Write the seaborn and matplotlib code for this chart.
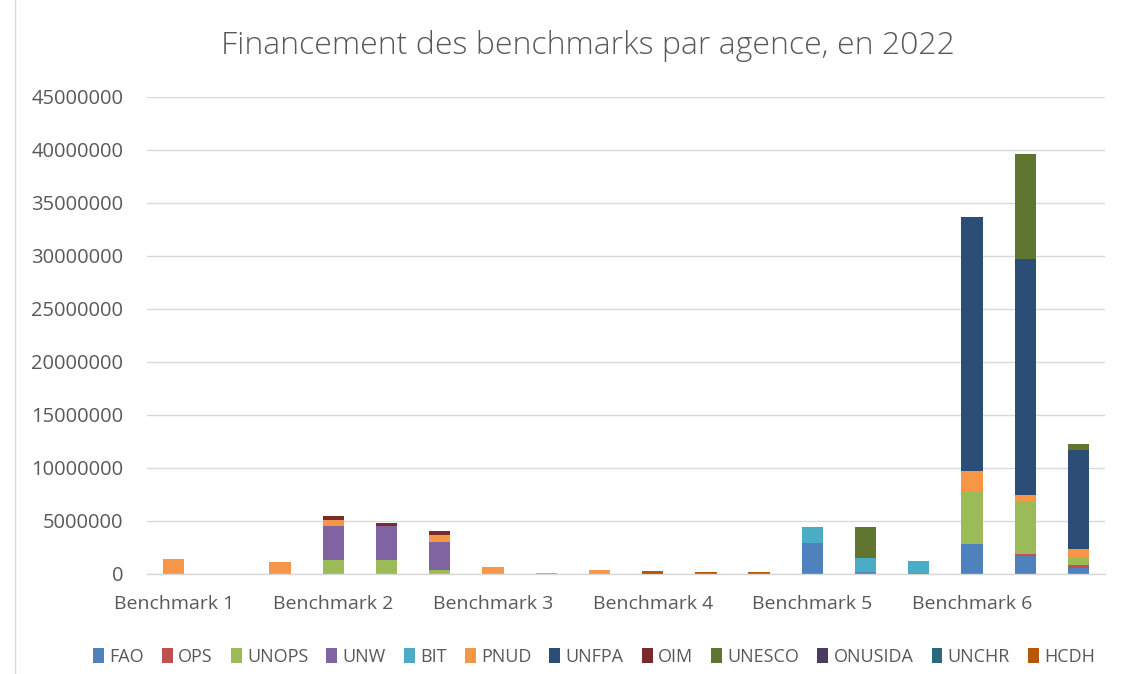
import pandas as pd
import matplotlib.pyplot as plt
import seaborn as sns
from matplotlib.patches import Patch
from matplotlib.lines import Line2D

# data: 18 bar slots, 3 per benchmark
slots = list(range(18))
tick_pos = [0, 3, 6, 9, 12, 15]
tick_labels = ["Benchmark 1", "Benchmark 2", "Benchmark 3", "Benchmark 4", "Benchmark 5", "Benchmark 6"]

agencies = ["FAO", "OPS", "UNOPS", "UNW", "BIT", "PNUD", "UNFPA", "OIM", "UNESCO", "ONUSIDA", "UNCHR", "HCDH"]

FAO = [0, 0, 0, 0, 0, 0, 0, 0, 0, 0, 0, 0, 2900000, 220000, 130000, 2870000, 1730000, 530000]
OPS = [0, 0, 0, 0, 0, 0, 0, 0, 0, 0, 0, 0, 0, 0, 0, 0, 130000, 350000]
UNOPS = [0, 0, 0, 1340000, 1340000, 380000, 0, 0, 0, 0, 0, 0, 0, 0, 0, 4830000, 4890000, 600000]
UNW = [0, 0, 0, 3150000, 3150000, 2680000, 0, 0, 0, 0, 0, 0, 0, 0, 0, 0, 0, 0]
BIT = [0, 0, 0, 0, 0, 0, 0, 0, 0, 0, 0, 0, 1500000, 1280000, 1110000, 0, 0, 0]
PNUD = [1400000, 0, 1150000, 600000, 0, 600000, 670000, 80000, 380000, 0, 0, 0, 0, 0, 0, 2050000, 730000, 880000]
UNFPA = [0, 0, 0, 0, 0, 0, 0, 0, 0, 0, 0, 0, 0, 0, 0, 23900000, 22190000, 9320000]
OIM = [0, 0, 0, 380000, 360000, 350000, 0, 0, 0, 0, 0, 0, 0, 0, 0, 0, 0, 0]
UNESCO = [0, 0, 0, 0, 0, 0, 0, 0, 0, 0, 0, 0, 0, 2900000, 0, 0, 9980000, 600000]
ONUSIDA = [0] * 18
UNCHR = [0, 0, 0, 0, 0, 0, 0, 0, 0, 120000, 0, 0, 0, 0, 0, 0, 0, 0]
HCDH = [0, 0, 0, 0, 0, 0, 0, 0, 0, 200000, 220000, 220000, 0, 0, 0, 0, 0, 0]

series = [FAO, OPS, UNOPS, UNW, BIT, PNUD, UNFPA, OIM, UNESCO, ONUSIDA, UNCHR, HCDH]

colors = ["#4F81BD", "#C0504D", "#9BBB59", "#8064A2", "#4BACC6", "#F79646",
          "#2C4D75", "#772C2A", "#5F7530", "#4D3B62", "#276A7C", "#B65708"]
palette = dict(zip(agencies, colors))

# long form table
rows = []
for name, vals in zip(agencies, series):
    for s, v in zip(slots, vals):
        rows.append({"slot": s, "agency": name, "value": v})
df = pd.DataFrame(rows)

# plot
sns.set_theme(style="white")
plt.rcParams["font.family"] = ["Open Sans", "DejaVu Sans"]

fig = plt.figure(figsize=(11.47, 6.74), dpi=100)
ax = fig.add_axes([0.1282, 0.1484, 0.8352, 0.7077])

# seaborn stacks the last hue level at the bottom, so reverse the order
sns.histplot(data=df, x="slot", weights="value", hue="agency",
             hue_order=agencies[::-1], palette=palette, multiple="stack",
             discrete=True, shrink=0.4, alpha=1, linewidth=0, legend=False, ax=ax)

ax.set_xlim(-0.5, 17.5)
ax.set_ylim(0, 45000000)
ax.set_yticks(range(0, 45000001, 5000000))
ax.set_yticklabels([str(v) for v in range(0, 45000001, 5000000)])
ax.set_xticks(tick_pos)
ax.set_xticklabels(tick_labels)
ax.set_xlabel("")
ax.set_ylabel("")

ax.yaxis.grid(True, color="#D9D9D9", linewidth=1)
ax.set_axisbelow(True)
for side in ["top", "right", "left"]:
    ax.spines[side].set_visible(False)
ax.spines["bottom"].set_color("#D9D9D9")
ax.spines["bottom"].set_linewidth(1)
ax.tick_params(axis="y", length=0, labelsize=14.5, colors="#595959", pad=17)
ax.tick_params(axis="x", length=0, labelsize=14, colors="#595959", pad=15)

fig.suptitle("Financement des benchmarks par agence, en 2022", x=0.513, y=0.955,
             fontsize=23, color="#595959", fontweight="light")

handles = [Patch(facecolor=palette[a], edgecolor="none", label=a) for a in agencies]
fig.legend(handles=handles, loc="center", bbox_to_anchor=(0.518, 0.025), ncol=12,
           frameon=False, fontsize=13, labelcolor="#595959", handlelength=0.6,
           handleheight=0.9, handletextpad=0.3, columnspacing=1.0)

# chart border on the left edge
fig.add_artist(Line2D([0.013, 0.013], [0, 1], color="#D9D9D9", linewidth=1))

plt.savefig("out.png", dpi=100)
